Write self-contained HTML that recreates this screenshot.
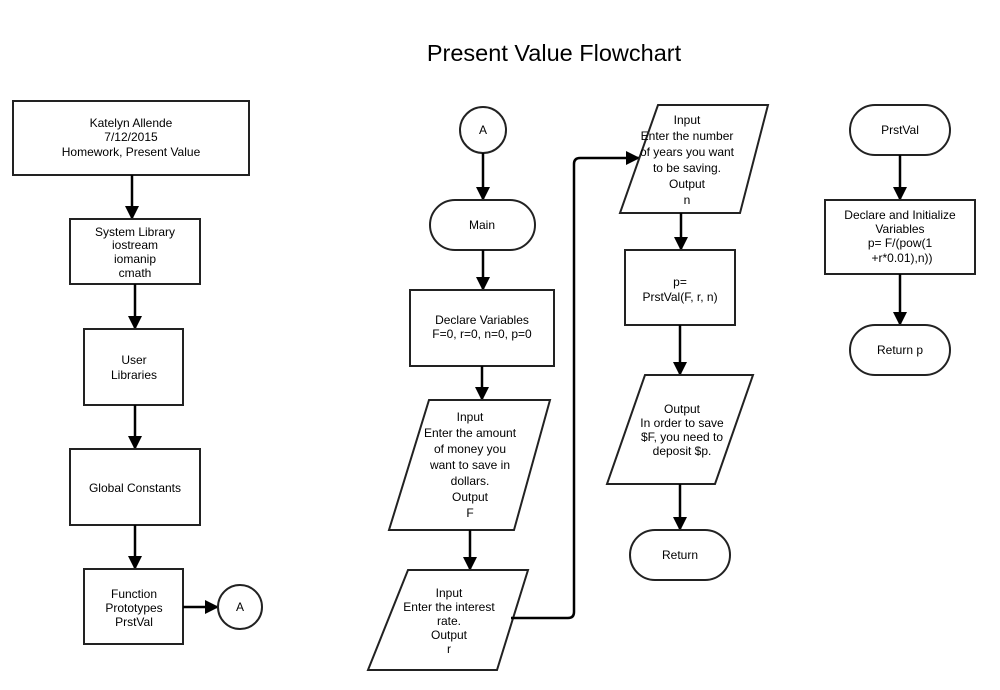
<!DOCTYPE html>
<html><head><meta charset="utf-8"><style>
html,body{margin:0;padding:0;background:#fff;}
svg{display:block;}
text{font-family:"Liberation Sans",Arial,sans-serif;font-size:12px;fill:#000;text-anchor:middle;}
.s{fill:#fff;stroke:#222;stroke-width:2;}
.l{stroke:#000;stroke-width:2.5;fill:none;}
</style></head><body>
<svg width="1000" height="690" viewBox="0 0 1000 690">
<defs><marker id="a" markerWidth="14" markerHeight="14" refX="13" refY="7" orient="auto" markerUnits="userSpaceOnUse"><path d="M0,0 L14,7 L0,14 z" fill="#000"/></marker></defs>
<text x="554" y="61" style="font-size:23.5px">Present Value Flowchart</text>

<!-- left column -->
<rect class="s" x="13" y="101" width="236" height="74"/>
<text x="131" y="127">Katelyn Allende</text><text x="131" y="141">7/12/2015</text><text x="131" y="156">Homework, Present Value</text>
<line class="l" x1="132" y1="175" x2="132" y2="219" marker-end="url(#a)"/>
<rect class="s" x="70" y="219" width="130" height="65"/>
<text x="135" y="236">System Library</text><text x="135" y="249">iostream</text><text x="135" y="263">iomanip</text><text x="135" y="277">cmath</text>
<line class="l" x1="135" y1="284" x2="135" y2="329" marker-end="url(#a)"/>
<rect class="s" x="84" y="329" width="99" height="76"/>
<text x="134" y="364">User</text><text x="134" y="379">Libraries</text>
<line class="l" x1="135" y1="405" x2="135" y2="449" marker-end="url(#a)"/>
<rect class="s" x="70" y="449" width="130" height="76"/>
<text x="135" y="492">Global Constants</text>
<line class="l" x1="135" y1="525" x2="135" y2="569" marker-end="url(#a)"/>
<rect class="s" x="84" y="569" width="99" height="75"/>
<text x="134" y="598">Function</text><text x="134" y="612">Prototypes</text><text x="134" y="626">PrstVal</text>
<line class="l" x1="183" y1="607" x2="218" y2="607" marker-end="url(#a)"/>
<circle class="s" cx="240" cy="607" r="22"/><text x="240" y="611">A</text>

<!-- middle column -->
<circle class="s" cx="483" cy="130" r="23"/><text x="483" y="134">A</text>
<line class="l" x1="483" y1="153" x2="483" y2="200" marker-end="url(#a)"/>
<rect class="s" x="430" y="200" width="105" height="50" rx="25"/><text x="482" y="229">Main</text>
<line class="l" x1="483" y1="250" x2="483" y2="290" marker-end="url(#a)"/>
<rect class="s" x="410" y="290" width="144" height="76"/>
<text x="482" y="324">Declare Variables</text><text x="482" y="338">F=0, r=0, n=0, p=0</text>
<line class="l" x1="482" y1="366" x2="482" y2="400" marker-end="url(#a)"/>
<polygon class="s" points="429,400 550,400 514,530 389,530"/>
<text x="470" y="421">Input</text><text x="470" y="437">Enter the amount</text><text x="470" y="453">of money you</text><text x="470" y="469">want to save in</text><text x="470" y="485">dollars.</text><text x="470" y="501">Output</text><text x="470" y="517">F</text>
<line class="l" x1="470" y1="530" x2="470" y2="570" marker-end="url(#a)"/>
<polygon class="s" points="408,570 528,570 497,670 368,670"/>
<text x="449" y="597">Input</text><text x="449" y="611">Enter the interest</text><text x="449" y="625">rate.</text><text x="449" y="639">Output</text><text x="449" y="653">r</text>
<path class="l" d="M511,618 H568 Q574,618 574,612 V164 Q574,158 580,158 H639" marker-end="url(#a)"/>

<!-- third column -->
<polygon class="s" points="658,105 768,105 740,213 620,213"/>
<text x="687" y="124">Input</text><text x="687" y="140">Enter the number</text><text x="687" y="156">of years you want</text><text x="687" y="172">to be saving.</text><text x="687" y="188">Output</text><text x="687" y="204">n</text>
<line class="l" x1="681" y1="213" x2="681" y2="250" marker-end="url(#a)"/>
<rect class="s" x="625" y="250" width="110" height="75"/>
<text x="680" y="286">p=</text><text x="680" y="301">PrstVal(F, r, n)</text>
<line class="l" x1="680" y1="325" x2="680" y2="375" marker-end="url(#a)"/>
<polygon class="s" points="645,375 753,375 715,484 607,484"/>
<text x="682" y="413">Output</text><text x="682" y="427">In order to save</text><text x="682" y="441">$F, you need to</text><text x="682" y="455">deposit $p.</text>
<line class="l" x1="680" y1="484" x2="680" y2="530" marker-end="url(#a)"/>
<rect class="s" x="630" y="530" width="100" height="50" rx="25"/><text x="680" y="559">Return</text>

<!-- right column -->
<rect class="s" x="850" y="105" width="100" height="50" rx="25"/><text x="900" y="134">PrstVal</text>
<line class="l" x1="900" y1="155" x2="900" y2="200" marker-end="url(#a)"/>
<rect class="s" x="825" y="200" width="150" height="74"/>
<text x="900" y="219">Declare and Initialize</text><text x="900" y="233">Variables</text><text x="900" y="247">p= F/(pow(1</text><text x="902" y="262">+r*0.01),n))</text>
<line class="l" x1="900" y1="274" x2="900" y2="325" marker-end="url(#a)"/>
<rect class="s" x="850" y="325" width="100" height="50" rx="25"/><text x="900" y="354">Return p</text>
</svg>
</body></html>
